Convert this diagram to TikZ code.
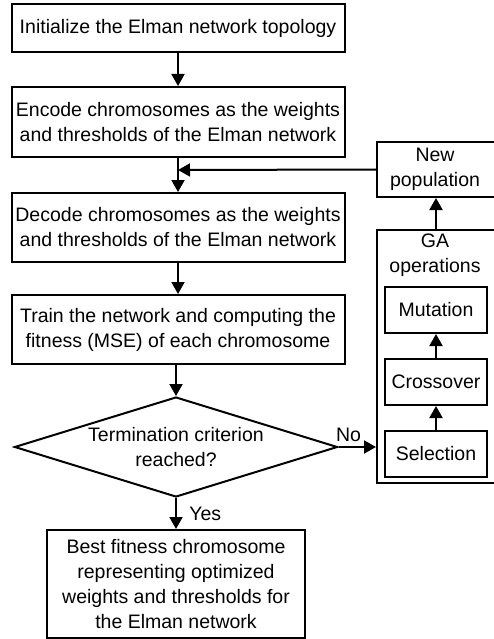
\documentclass[tikz,border=0pt]{standalone}
\usepackage{fontspec}
\setmainfont{Liberation Sans}
\usetikzlibrary{shapes.geometric, arrows.meta, positioning}

\begin{document}
\begin{tikzpicture}[x=1pt, y=1pt, line width=2pt,
    every node/.style={font=\fontsize{19.5}{25}\selectfont},
    process/.style={draw, align=center, minimum width=333pt, minimum height=69pt, inner sep=0pt},
    decision/.style={draw, diamond, aspect=3.23, align=center, minimum width=323pt, minimum height=100pt, inner sep=0pt},
    gastep/.style={draw, minimum width=102pt, minimum height=46pt, inner sep=0pt},
    flow/.style={-{Triangle[length=12pt, width=13pt]}}]
% Define constants
\def\midX{178}
\def\gaX{442}

% Fix the page size
\useasboundingbox (0,0) rectangle (493,-639);

% Main column
\node[process, minimum height=48pt] (init) at (\midX,-28) {Initialize the Elman network topology};
\node[process, minimum height=70pt] (encode) at (\midX,-122) {Encode chromosomes as the weights\\and thresholds of the Elman network};
\coordinate (merge) at (\midX,-170);
\node[process] (decode) at (\midX,-227.5) {Decode chromosomes as the weights\\and thresholds of the Elman network};
\node[process] (train) at (\midX,-329.5) {Train the network and computing the\\fitness (MSE) of each chromosome};
\node[decision] (check) at (\midX-2,-447) {Termination criterion\\reached?};
\node[process, minimum width=258pt, minimum height=108pt] (best) at (\midX-2,-584) {Best fitness chromosome\\representing optimized\\weights and thresholds for\\the Elman network};

% GA column (right edges run past the page)
\node[draw, minimum width=130pt, minimum height=55pt, inner sep=0pt] (newpop) at (\gaX,-169.5) {};
\node[align=center, inner sep=0pt] (newpoptext) at (435,-169.5) {New\\population};
\node[draw, minimum width=130pt, minimum height=253pt, inner sep=0pt] (gabox) at (\gaX,-356.5) {};
\node[align=center, anchor=north, inner sep=2pt] (galabel) at (435,-231) {GA\\operations};
\node[gastep] (mutation) at (436,-310) {Mutation};
\node[gastep, below=24pt of mutation] (crossover) {Crossover};
\node[gastep, below=24pt of crossover] (selection) {Selection};

% Draw connectors
\draw[flow] (init) -- (encode);
\draw[flow] (encode) -- (decode);
\draw[flow] (newpop.west) -- (merge);
\draw[flow] (decode) -- (train);
\draw[flow] (train.south -| check.north) -- (check.north);
\draw[flow] (check.south) -- node[right, xshift=9pt] (yes) {Yes} (best.north);
\draw[flow] (check.east) -- node[above, pos=0.35, yshift=1pt, xshift=-3pt] (no) {No} (check.east -| gabox.west);
\draw[flow] (selection) -- (crossover);
\draw[flow] (crossover) -- (mutation);
\draw[flow] (gabox.north -| mutation) -- (newpop.south -| mutation);

\end{tikzpicture}
\end{document}
